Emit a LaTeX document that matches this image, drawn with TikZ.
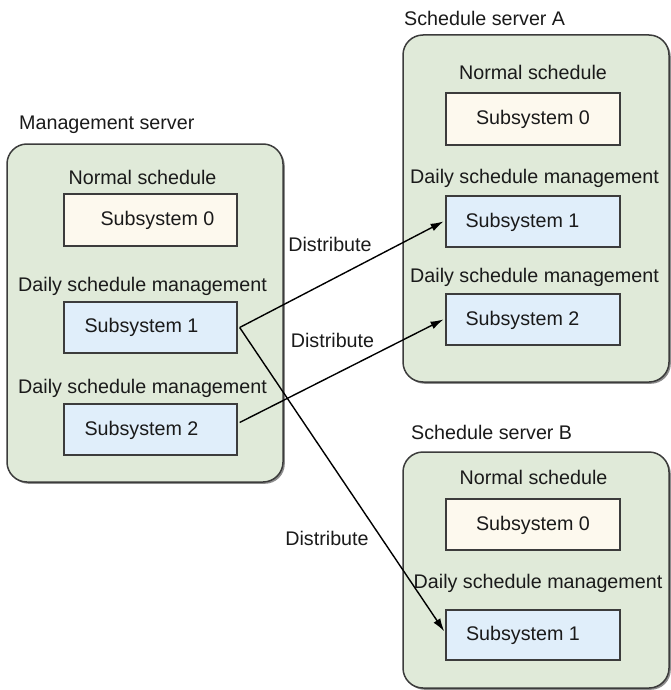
\documentclass[tikz,border=0pt]{standalone}
\usepackage{fontspec}
\setmainfont{Liberation Sans}
\usetikzlibrary{arrows.meta,shadows}
\definecolor{contfill}{HTML}{E0EAD9}
\definecolor{zerofill}{HTML}{FDF9EE}
\definecolor{bluefill}{HTML}{E0EEFA}
\definecolor{edgedark}{HTML}{3C3C3C}
\definecolor{txt}{HTML}{1A1A1A}
\begin{document}
\begin{tikzpicture}[x=1pt,y=-1pt,
  every node/.style={font=\fontsize{19.7}{23}\selectfont, text=txt, inner sep=0pt},
  container/.style={draw=edgedark, line width=1.5pt, fill=contfill, rounded corners=20pt,
    drop shadow={shadow xshift=1.8pt, shadow yshift=-1.8pt, fill=black!45, opacity=1}},
  zerobox/.style={draw=edgedark, line width=1.3pt, fill=zerofill},
  bluebox/.style={draw=edgedark, line width=1.3pt, fill=bluefill},
  arr/.style={-{Latex[length=13pt,width=8pt]}, line width=1.4pt, black, shorten >=2pt}
]
\useasboundingbox (0,0) rectangle (670,690);

% containers
\node[container, minimum width=276pt, minimum height=338pt] (mgmt) at (145,313) {};
\node[container, minimum width=266pt, minimum height=347pt] (srvA) at (536,208.5) {};
\node[container, minimum width=266pt, minimum height=236pt] (srvB) at (536,570) {};

% headers
\node[anchor=west] (hm) at (19,125) {Management server};
\node[anchor=west] (ha) at (404,18) {Schedule server A};
\node[anchor=west] (hb) at (411,432) {Schedule server B};

% management server
\node (mn) at (142.5,177) {Normal schedule};
\node[zerobox, minimum width=173pt, minimum height=52pt] (m0) at (150.5,220) {};
\node (m0t) at (157.5,220) {Subsystem 0};
\node (md1) at (142.5,286) {Daily schedule management};
\node[bluebox, minimum width=173pt, minimum height=51pt] (m1) at (150.5,327.5) {};
\node (m1t) at (141.5,327.5) {Subsystem 1};
\node (md2) at (142.5,388) {Daily schedule management};
\node[bluebox, minimum width=173pt, minimum height=51pt] (m2) at (150.5,429.5) {};
\node (m2t) at (141.5,430) {Subsystem 2};

% server A
\node (an) at (533,72) {Normal schedule};
\node[zerobox, minimum width=174pt, minimum height=52pt] (a0) at (533,119) {};
\node (a0t) at (533,119.5) {Subsystem 0};
\node (ad1) at (534.5,178) {Daily schedule management};
\node[bluebox, minimum width=174pt, minimum height=51pt] (a1) at (533,221.5) {};
\node (a1t) at (522.5,222) {Subsystem 1};
\node (ad2) at (534.5,277) {Daily schedule management};
\node[bluebox, minimum width=174pt, minimum height=51pt] (a2) at (533,319.5) {};
\node (a2t) at (522.5,320) {Subsystem 2};

% server B
\node (bn) at (533.5,477) {Normal schedule};
\node[zerobox, minimum width=174pt, minimum height=51pt] (b0) at (533,524.5) {};
\node (b0t) at (533,525) {Subsystem 0};
\node (bd1) at (538,583) {Daily schedule management};
\node[bluebox, minimum width=174pt, minimum height=50pt] (b1) at (533,635) {};
\node (b1t) at (523,635) {Subsystem 1};

% connectors
\draw[arr] ([xshift=2pt]m1.east) -- ([yshift=1pt]a1.west);
\draw[arr] ([xshift=2pt,yshift=7pt]m2.east) -- ([yshift=1pt]a2.west);
\draw[arr] ([xshift=2pt]m1.east) -- ([yshift=2pt]b1.west);

% labels
\node (l1) at (330,244) {Distribute};
\node (l2) at (332.5,340) {Distribute};
\node (l3) at (327,538) {Distribute};
\end{tikzpicture}
\end{document}
